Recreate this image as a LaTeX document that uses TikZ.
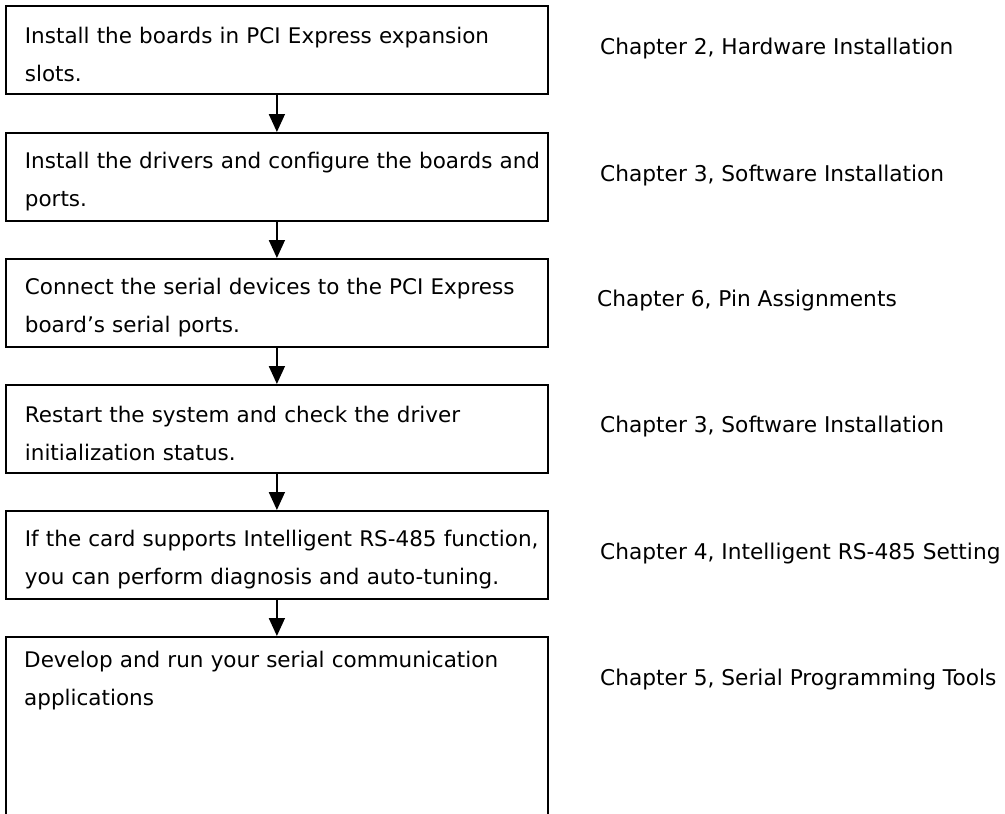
\documentclass[tikz,border=0pt]{standalone}
\usepackage{fontspec}
\setmainfont{DejaVu Sans}
\usetikzlibrary{arrows.meta}
\tikzset{
  stepbox/.style={draw=black, line width=1.8pt, rectangle, anchor=north west,
    minimum width=542pt, minimum height=88pt, text width=504pt, inner xsep=19pt,
    align=left, font={\fontsize{21.5}{38}\selectfont}},
  chap/.style={anchor=west, inner sep=0pt, font={\fontsize{21.7}{38}\selectfont}},
  flow/.style={line width=1.8pt, -{Triangle[width=16pt,length=18pt]}}
}
\begin{document}
\begin{tikzpicture}[x=1pt,y=-1pt]
\useasboundingbox (0,0) rectangle (1005,814);
\clip (0,0) rectangle (1005,814);
\node[stepbox] (b1) at (5,5) {\rule{0pt}{26pt}\mbox{Install the boards in PCI Express expansion}\\\mbox{slots.}};
\node[stepbox] (b2) at (5,132) {\rule{0pt}{26pt}\mbox{Install the drivers and configure the boards and}\\\mbox{ports.}};
\node[stepbox] (b3) at (5,258) {\rule{0pt}{26pt}\mbox{Connect the serial devices to the PCI Express}\\\mbox{board’s serial ports.}};
\node[stepbox] (b4) at (5,384) {\rule{0pt}{26pt}\mbox{Restart the system and check the driver}\\\mbox{initialization status.}};
\node[stepbox] (b5) at (5,510) {\rule{0pt}{26pt}\mbox{If the card supports Intelligent RS-485 function,}\\\mbox{you can perform diagnosis and auto-tuning.}};
\node[stepbox, minimum height=200pt] (b6) at (5,636) {};
\node[anchor=north west, inner sep=0pt, text width=504pt, align=left, font={\fontsize{21.5}{38}\selectfont}] (t6) at (24,651) {\mbox{Develop and run your serial communication}\\\mbox{applications}};
\node[chap] (c1) at (600,49) {Chapter 2, Hardware Installation};
\node[chap] (c2) at (600,176) {Chapter 3, Software Installation};
\node[chap] (c3) at (597,301) {Chapter 6, Pin Assignments};
\node[chap] (c4) at (600,427) {Chapter 3, Software Installation};
\node[chap] (c5) at (600,554) {Chapter 4, Intelligent RS-485 Setting};
\node[chap] (c6) at (600,680) {Chapter 5, Serial Programming Tools};
\draw[flow] (b1.south) -- (b2.north);
\draw[flow] (b2.south) -- (b3.north);
\draw[flow] (b3.south) -- (b4.north);
\draw[flow] (b4.south) -- (b5.north);
\draw[flow] (b5.south) -- (b6.north);
\end{tikzpicture}
\end{document}
